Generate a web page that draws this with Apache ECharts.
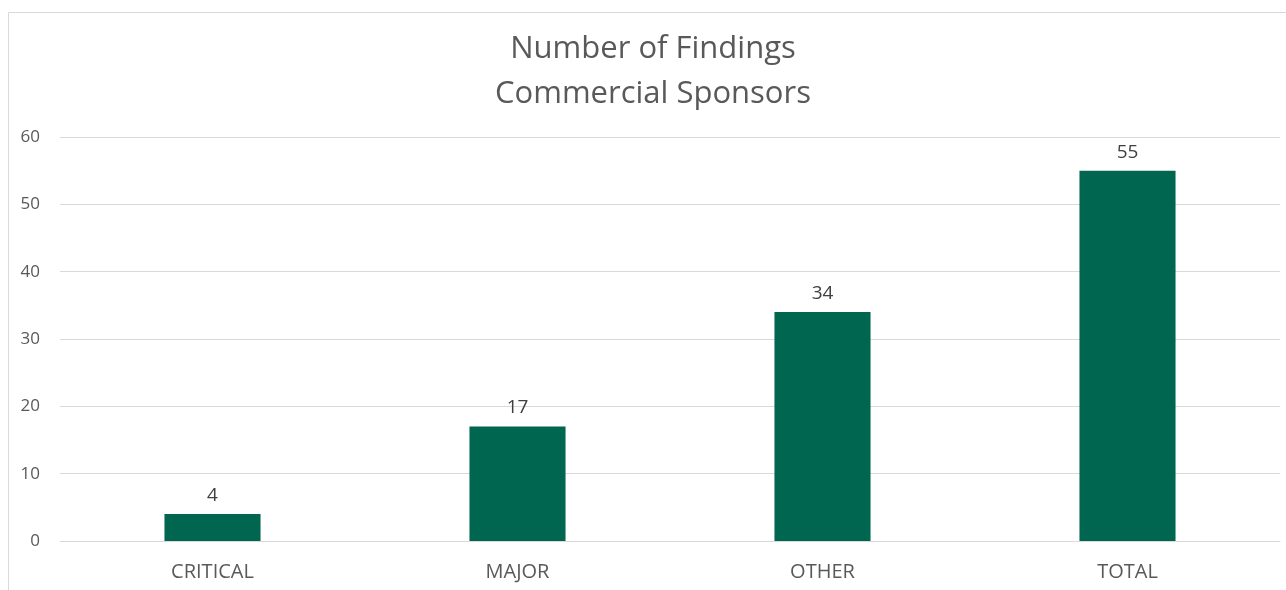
<!DOCTYPE html>
<html>
<head>
<meta charset="utf-8">
<script src="https://cdn.jsdelivr.net/npm/echarts@6/dist/echarts.min.js"></script>
<style>
  html, body { margin: 0; padding: 0; background: #fff; }
  #chart { width: 1286px; height: 590px; }
</style>
</head>
<body>
<div id="chart"></div>
<script>
var categories = ["CRITICAL", "MAJOR", "OTHER", "TOTAL"];
var findings = [4, 17, 34, 55];
var yTicks = [0, 10, 20, 30, 40, 50, 60];

(function () {
  var myEcharts = echarts.init(document.getElementById('chart'));
  var font = "Open Sans, Noto Sans, sans-serif";
  var option = {
    animation: false,
    textStyle: { fontFamily: font },
    // 外框
    graphic: [{
      type: 'rect',
      shape: { x: 8.5, y: 12.5, width: 1300, height: 600 },
      style: { fill: 'none', stroke: '#d9d9d9', lineWidth: 1 },
      silent: true
    }],
    title: {
      text: "Number of Findings\nCommercial Sponsors",
      left: 653,
      textAlign: 'center',   // 标题以 x=653 为中心
      top: 27,
      padding: 0,
      textStyle: {
        color: "#595959",
        fontSize: 31,
        fontWeight: 'normal',
        lineHeight: 45,
        fontFamily: font
      }
    },
    grid: {
      left: 60,
      right: 6,
      top: 137,
      bottom: 49,
      containLabel: false
    },
    xAxis: {
      type: 'category',
      data: categories,
      axisTick: { show: false },
      axisLine: { lineStyle: { color: "#d9d9d9", width: 1 } },
      axisLabel: { color: "#595959", fontSize: 20, margin: 21, fontFamily: font }
    },
    yAxis: {
      type: 'value',
      min: yTicks[0],
      max: yTicks[yTicks.length - 1],
      interval: 10,
      axisLine: { show: false },
      axisTick: { show: false },
      splitLine: { lineStyle: { color: "#d9d9d9", width: 1 } },
      axisLabel: { color: "#595959", fontSize: 17, margin: 20, fontFamily: font }
    },
    series: [{
      type: 'bar',
      data: findings,
      barWidth: '31.5%',
      itemStyle: { color: "#00664f" },
      label: {
        show: true,
        position: 'top',
        distance: 9,
        color: "#404040",
        fontSize: 19,
        fontFamily: font
      }
    }]
  };
  myEcharts.setOption(option);
  window.addEventListener('resize', function () {
    myEcharts.resize();
  });
})();
</script>
</body>
</html>
